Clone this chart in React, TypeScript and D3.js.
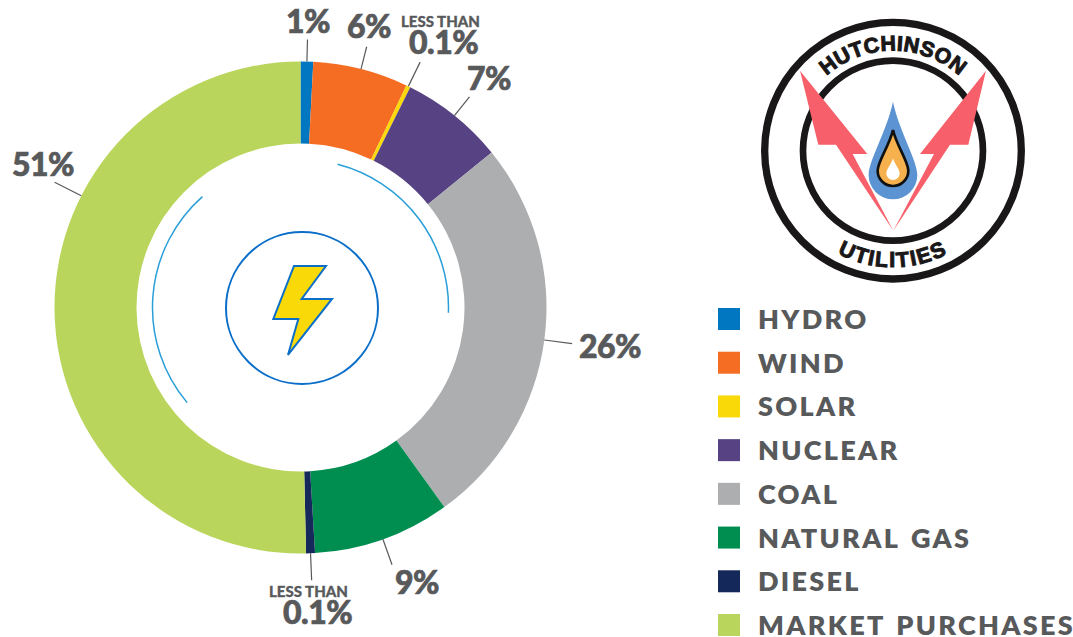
import * as d3 from 'd3';
import React from 'react';

const categories = ['HYDRO', 'WIND', 'SOLAR', 'NUCLEAR', 'COAL', 'NATURAL GAS', 'DIESEL', 'MARKET PURCHASES'];
const shares = [0.83, 6.25, 0.28, 6.8, 25.9, 9.0, 0.58, 50.36];
const colors = ['#0077c0', '#f56d23', '#f9d908', '#574283', '#acaeb0', '#008e50', '#14295a', '#b9d55b'];
const leaderLengths = [22, 23, 27, 24, 28, 27, 27, 30];

const WIDTH = 1073;
const HEIGHT = 637;
const cx = 300.5;
const cy = 307.5;
const outer = 246;
const inner = 164;
const TEXT = '#58595b';
const FONT = 'Lato, sans-serif';
const LOGO_FONT = '"Liberation Sans Narrow", "Liberation Sans", sans-serif';

const pieGen = d3.pie<number>().sort(null).value(d => d);
const arcs = pieGen(shares);
const arcGen = d3.arc<any>().innerRadius(inner).outerRadius(outer);
const legendY = d3.scaleLinear().domain([0, 7]).range([319, 625]);
const rad = (deg: number) => (deg * Math.PI) / 180;

// the market purchases leader sits far from the middle of its slice
const leaderAngle = (i: number) => {
    if (i === 7) return rad(297);
    return (arcs[i].startAngle + arcs[i].endAngle) / 2;
};

const dropPath = (x: number, tipY: number, cY: number, r: number) =>
    `M${x},${tipY} C${x + r * 0.25},${tipY + (cY - tipY) * 0.4} ${x + r},${cY - r * 0.6} ${x + r},${cY} ` +
    `A${r},${r} 0 0 1 ${x - r},${cY} C${x - r},${cY - r * 0.6} ${x - r * 0.25},${tipY + (cY - tipY) * 0.4} ${x},${tipY} Z`;

const Logo = () => (
    <g transform="translate(750,0) scale(0.3333)">
        <defs>
            <path id="logoTop" d="M 429 452 m -300 0 a 300 300 0 0 1 600 0" />
            <path id="logoBottom" d="M 429 452 m -350 0 a 350 350 0 0 0 700 0" />
        </defs>
        <circle cx={429} cy={452} r={385} fill="none" stroke="#1a1718" strokeWidth={22} />
        <circle cx={429} cy={452} r={270} fill="none" stroke="#1a1718" strokeWidth={20} />
        <polygon points="150,212 352,462 308,462 430,692 258,434 205,434" fill="#f7606a" />
        <polygon points="708,212 510,462 552,462 430,692 600,434 655,434" fill="#f7606a" />
        <path d={dropPath(429, 305, 525, 73)} fill="#5b93d3" />
        <path d={dropPath(429, 390, 512, 46)} fill="#f7b04e" stroke="#111" strokeWidth={8} />
        <path d={dropPath(429, 475, 520, 20)} fill="#fff" />
        <text fontFamily={LOGO_FONT} fontWeight={700} fontSize={64} fill="#1a1718" stroke="#1a1718" strokeWidth={3} letterSpacing={1} textAnchor="middle">
            <textPath href="#logoTop" startOffset="50%">HUTCHINSON</textPath>
        </text>
        <text fontFamily={LOGO_FONT} fontWeight={700} fontSize={64} fill="#1a1718" stroke="#1a1718" strokeWidth={3} letterSpacing={5} textAnchor="middle">
            <textPath href="#logoBottom" startOffset="50%">UTILITIES</textPath>
        </text>
    </g>
);

const Center = () => (
    <g>
        <circle cx={302} cy={308} r={76} fill="none" stroke="#0b6fc9" strokeWidth={2} />
        <polygon
            transform="translate(130,140) scale(0.3333)"
            points="492,378 588,378 515,477 606,477 474,645 505,537 430,537"
            fill="#f9d908"
            stroke="#0b6fc9"
            strokeWidth={6}
        />
        <path
            transform={`translate(${cx},${cy})`}
            d={d3.arc<any>()({ innerRadius: 148, outerRadius: 148, startAngle: rad(14.5), endAngle: rad(92) }) as string}
            fill="none"
            stroke="#2a9fd8"
            strokeWidth={1.5}
        />
        <path
            transform={`translate(${cx},${cy})`}
            d={d3.arc<any>()({ innerRadius: 148, outerRadius: 148, startAngle: rad(230), endAngle: rad(318.5) }) as string}
            fill="none"
            stroke="#2a9fd8"
            strokeWidth={1.5}
        />
    </g>
);

const pct = { fontFamily: FONT, fontWeight: 900, fill: TEXT, stroke: TEXT, strokeWidth: 0.7, fontSize: 32, letterSpacing: -0.5 } as const;
const small = { fontFamily: FONT, fontWeight: 900, fill: TEXT, stroke: TEXT, strokeWidth: 0.3, fontSize: 15 } as const;

export default function App() {
    return (
        <svg width={WIDTH} height={HEIGHT} style={{ position: 'absolute', left: 0, top: 0 }}>
            <rect width={WIDTH} height={HEIGHT} fill="#fff" />
            <g transform={`translate(${cx},${cy})`}>
                {arcs.map((a, i) => (
                    <path key={categories[i]} d={arcGen(a) as string} fill={colors[i]} />
                ))}
                {arcs.map((a, i) => {
                    const t = leaderAngle(i);
                    const r1 = outer + leaderLengths[i];
                    return (
                        <line
                            key={i}
                            x1={outer * Math.sin(t)}
                            y1={-outer * Math.cos(t)}
                            x2={r1 * Math.sin(t)}
                            y2={-r1 * Math.cos(t)}
                            stroke={TEXT}
                            strokeWidth={1.2}
                        />
                    );
                })}
            </g>
            <Center />

            <text {...pct} x={286} y={33}>1%</text>
            <text {...pct} x={347} y={38}>6%</text>
            <text {...small} x={401} y={27}>LESS THAN</text>
            <text {...pct} x={409} y={54}>0.1%</text>
            <text {...pct} x={467} y={90}>7%</text>
            <text {...pct} x={12} y={176}>51%</text>
            <text {...pct} x={579} y={358}>26%</text>
            <text {...pct} x={395} y={594}>9%</text>
            <text {...small} x={269} y={597}>LESS THAN</text>
            <text {...pct} x={283} y={624}>0.1%</text>

            <Logo />

            {categories.map((c, i) => (
                <g key={c} transform={`translate(718,${legendY(i)})`}>
                    <rect x={0} y={-11} width={22} height={22} fill={colors[i]} />
                    <text x={40} y={10} fontFamily={FONT} fontWeight={800} fontSize={27} letterSpacing={2.3} wordSpacing={3} fill={TEXT}>
                        {c}
                    </text>
                </g>
            ))}
        </svg>
    );
}
